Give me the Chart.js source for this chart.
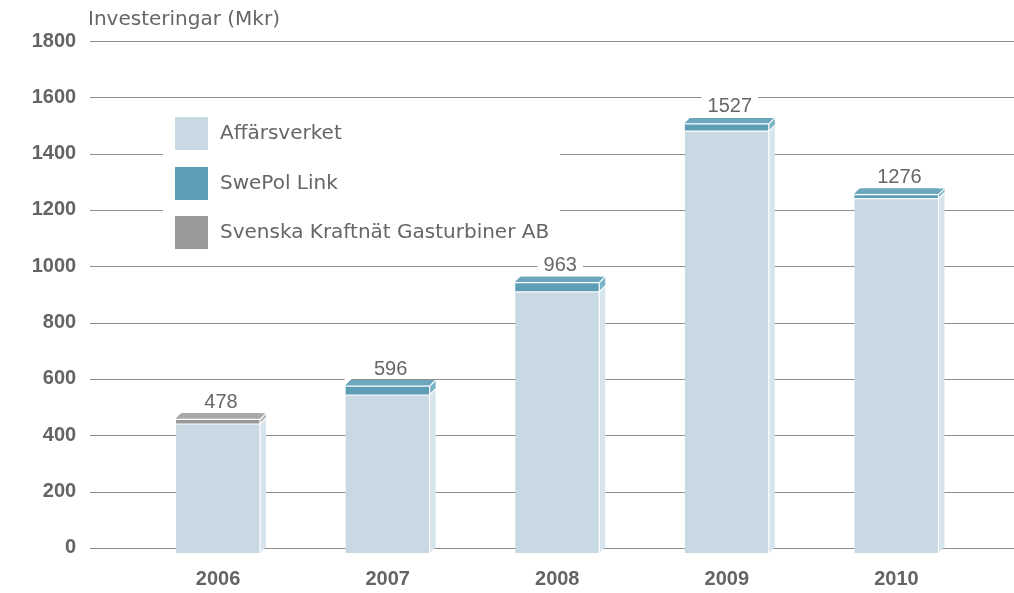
<!DOCTYPE html>
<html>
<head>
<meta charset="utf-8">
<script src="https://cdn.jsdelivr.net/npm/chart.js@4"></script>
<style>
  html, body { margin: 0; padding: 0; background: #fff; }
  #wrap { width: 1014px; height: 593px; position: relative; }
</style>
</head>
<body>
<div id="wrap"><canvas id="investChart"></canvas></div>
<script>
// data (Mkr)
const years = ['2006', '2007', '2008', '2009', '2010'];
const affarsverket = [440, 543, 909, 1480, 1240];
const swepolLink = [0, 53, 54, 47, 36];
const gasturbiner = [38, 0, 0, 0, 0];
const yTicks = [0, 200, 400, 600, 800, 1000, 1200, 1400, 1600, 1800];
const axisTitle = 'Investeringar (Mkr)';
const seriesNames = ['Affärsverket', 'SwePol Link', 'Svenska Kraftnät Gasturbiner AB'];

// front / top face / side colours per series
const frontColors = ['#c8d9e3', '#5d9db6', '#999999'];
const faceColors = ['#d3e2ea', '#6ba8be', '#a8a8a8'];
const sideColors = ['#d6e4ed', '#7ab2c6', '#b4b4b4'];

const DEPTH = 6;
const NUM_FONT = '"Liberation Sans", Arial, sans-serif';
const TEXT_FONT = '"DejaVu Sans", sans-serif';
const textColor = '#666666';
const axisColor = '#646464';

// horizontal grid lines, full width like the original
const gridLines = {
    id: 'gridLines',
    beforeDatasetsDraw(chart) {
        const ctx = chart.ctx;
        const y = chart.scales.y;
        ctx.save();
        ctx.strokeStyle = '#8e8e8e';
        ctx.lineWidth = 1;
        yTicks.forEach(v => {
            const py = Math.round(y.getPixelForValue(v)) + 0.5;
            ctx.beginPath();
            ctx.moveTo(90, py);
            ctx.lineTo(chart.width, py);
            ctx.stroke();
        });
        ctx.restore();
    }
};

// 3D faces, value labels, legend and title
const decorations = {
    id: 'decorations',
    afterDatasetsDraw(chart) {
        const ctx = chart.ctx;
        const d = DEPTH;
        ctx.save();

        years.forEach((yr, i) => {
            const segs = [];
            chart.data.datasets.forEach((ds, di) => {
                if (ds.data[i] > 0) segs.push({ el: chart.getDatasetMeta(di).data[i], di: di });
            });
            if (!segs.length) return;
            const top = segs[segs.length - 1].el;
            const L = top.x - top.width / 2;
            const R = top.x + top.width / 2;
            const topY = top.y;

            // value label with white background (drawn first so the face stays intact)
            const total = affarsverket[i] + swepolLink[i] + gasturbiner[i];
            const label = String(total);
            ctx.font = '20px ' + NUM_FONT;
            const w = ctx.measureText(label).width;
            const cx = (L + R + d) / 2;
            const cy = topY - 11;
            ctx.fillStyle = '#ffffff';
            ctx.fillRect(cx - w / 2 - 6, cy - 13, w + 12, 22);
            ctx.fillStyle = textColor;
            ctx.textAlign = 'center';
            ctx.textBaseline = 'middle';
            ctx.fillText(label, cx, cy);

            // clear the corner left of the top face
            ctx.fillStyle = '#ffffff';
            ctx.beginPath();
            ctx.moveTo(L - 1, topY - 1);
            ctx.lineTo(L + d, topY - 1);
            ctx.lineTo(L - 1, topY + d);
            ctx.closePath();
            ctx.fill();

            // side faces for every segment
            segs.forEach((s, k) => {
                const segTop = k === segs.length - 1 ? topY + d : s.el.y;
                const segBase = s.el.base;
                ctx.fillStyle = sideColors[s.di];
                ctx.beginPath();
                ctx.moveTo(R, segTop);
                ctx.lineTo(R + d, segTop - d);
                ctx.lineTo(R + d, segBase - d);
                ctx.lineTo(R, segBase);
                ctx.closePath();
                ctx.fill();
            });

            // top face
            const tdi = segs[segs.length - 1].di;
            ctx.fillStyle = faceColors[tdi];
            ctx.beginPath();
            ctx.moveTo(L, topY + d);
            ctx.lineTo(L + d, topY);
            ctx.lineTo(R + d, topY);
            ctx.lineTo(R, topY + d);
            ctx.closePath();
            ctx.fill();

            // white edges
            ctx.strokeStyle = '#ffffff';
            ctx.lineWidth = 1.2;
            ctx.beginPath();
            ctx.moveTo(L, topY + d);
            ctx.lineTo(R, topY + d);
            ctx.lineTo(R + d, topY);
            ctx.moveTo(R, topY + d);
            ctx.lineTo(R, segs[0].el.base);
            segs.forEach((s, k) => {
                if (k < segs.length - 1) {
                    ctx.moveTo(L, s.el.y);
                    ctx.lineTo(R, s.el.y);
                    ctx.lineTo(R + d, s.el.y - d);
                }
            });
            ctx.stroke();
        });

        // legend box inside the plot
        ctx.fillStyle = '#ffffff';
        ctx.fillRect(163, 104, 397, 152);
        const legendY = [117, 167, 216];
        seriesNames.forEach((name, k) => {
            ctx.fillStyle = frontColors[k];
            ctx.fillRect(175, legendY[k], 33, 33);
            ctx.fillStyle = textColor;
            ctx.font = '20px ' + TEXT_FONT;
            ctx.textAlign = 'left';
            ctx.textBaseline = 'middle';
            ctx.fillText(name, 220, legendY[k] + 17);
        });

        // axis title
        ctx.fillStyle = textColor;
        ctx.font = '20px ' + TEXT_FONT;
        ctx.textAlign = 'left';
        ctx.textBaseline = 'middle';
        ctx.fillText(axisTitle, 88, 20);

        ctx.restore();
    }
};

const investChart = new Chart(document.getElementById('investChart'), {
    type: 'bar',
    data: {
        labels: years,
        datasets: [
            {
                label: seriesNames[0],
                data: affarsverket,
                backgroundColor: frontColors[0],
                base: -18
            },
            {
                label: seriesNames[1],
                data: swepolLink,
                backgroundColor: frontColors[1]
            },
            {
                label: seriesNames[2],
                data: gasturbiner,
                backgroundColor: frontColors[2]
            }
        ]
    },
    options: {
        responsive: true,
        maintainAspectRatio: false,
        animation: false,
        borderWidth: 0,
        categoryPercentage: 1,
        barPercentage: 0.495,
        layout: {
            padding: { top: 41, right: 32.7, left: 0, bottom: 0 }
        },
        scales: {
            x: {
                stacked: true,
                grid: { display: false, drawTicks: false },
                border: { display: false },
                ticks: {
                    color: axisColor,
                    padding: 14,
                    font: { family: NUM_FONT, size: 20, weight: 'bold' }
                },
                afterFit: (scale) => { scale.height = 40; }
            },
            y: {
                stacked: true,
                min: -18,
                max: 1800,
                grid: { display: false, drawTicks: false },
                border: { display: false },
                ticks: {
                    stepSize: 200,
                    color: axisColor,
                    padding: 57,
                    font: { family: NUM_FONT, size: 20, weight: 'bold' },
                    callback: (v) => String(v)
                },
                afterBuildTicks: (scale) => {
                    scale.ticks = yTicks.map(v => ({ value: v }));
                },
                afterFit: (scale) => {
                    scale.width = 133.2;
                    scale.paddingTop = 0;
                    scale.paddingBottom = 0;
                }
            }
        },
        plugins: {
            legend: { display: false },
            tooltip: { enabled: false }
        }
    },
    plugins: [gridLines, decorations]
});
</script>
</body>
</html>
